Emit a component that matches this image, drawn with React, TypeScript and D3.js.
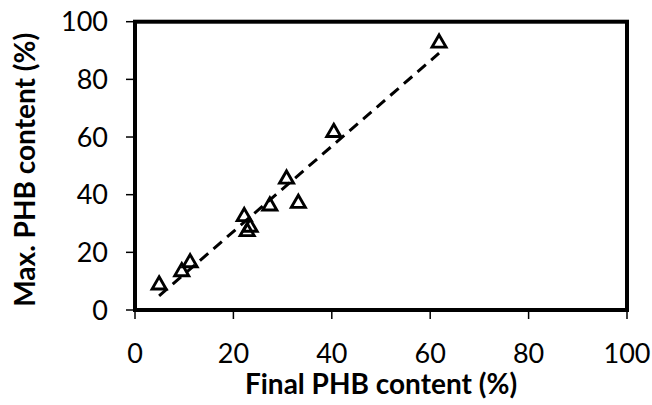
import React from "react";
import * as d3 from "d3";

// final vs max PHB content (%)
const finalPHB = [4.9, 9.5, 11.2, 22.2, 22.8, 23.4, 27.4, 30.8, 33.2, 40.4, 61.8];
const maxPHB = [8.7, 13.3, 16.4, 32.4, 27.2, 28.7, 36.1, 45.4, 37.0, 61.6, 92.6];
const xTicks = [0, 20, 40, 60, 80, 100];
const yTicks = [0, 20, 40, 60, 80, 100];

const W = 652;
const H = 405;
const M = { left: 135, right: 25, top: 21.7, bottom: 95 };
const FONT = "Lato, 'Open Sans', sans-serif";

export default function App() {
  const x = d3.scaleLinear().domain([0, 100]).range([M.left, W - M.right]);
  const y = d3.scaleLinear().domain([0, 100]).range([H - M.bottom, M.top]);

  const pts = finalPHB.map((v, i) => ({ x: v, y: maxPHB[i] }));

  // linear trend line (least squares)
  const mx = d3.mean(finalPHB) as number;
  const my = d3.mean(maxPHB) as number;
  const sxy = d3.sum(pts, (p) => (p.x - mx) * (p.y - my));
  const sxx = d3.sum(pts, (p) => (p.x - mx) ** 2);
  const slope = sxy / sxx;
  const icpt = my - slope * mx;
  const [x0, x1] = d3.extent(finalPHB) as [number, number];
  const trend = d3.line<number>()
    .x((d) => x(d))
    .y((d) => y(slope * d + icpt))([x0, x1]);

  const tri = d3.symbol().type(d3.symbolTriangle).size(85)();

  return (
    <svg width={W} height={H} style={{ position: "absolute", left: 0, top: 0, background: "#fff" }}>
      {/* ticks */}
      {xTicks.map((t) => (
        <g key={"x" + t}>
          <line x1={x(t)} x2={x(t)} y1={y(0)} y2={y(0) + 9} stroke="#000" strokeWidth={1.5} />
          <text x={x(t)} y={y(0) + 53} textAnchor="middle" fontFamily={FONT} fontSize={27} fill="#000">{t}</text>
        </g>
      ))}
      {yTicks.map((t) => (
        <g key={"y" + t}>
          <line x1={x(0) - 9} x2={x(0)} y1={y(t)} y2={y(t)} stroke="#000" strokeWidth={1.5} />
          <text x={x(0) - 27} y={y(t)} dy="0.36em" textAnchor="end" fontFamily={FONT} fontSize={27} fill="#000">{t}</text>
        </g>
      ))}

      <path d={trend ?? ""} fill="none" stroke="#000" strokeWidth={3} strokeDasharray="11,7" />

      {pts.map((p, i) => (
        <path key={i} d={tri ?? ""} transform={`translate(${x(p.x)},${y(p.y)})`} fill="none" stroke="#000" strokeWidth={2.9} />
      ))}

      {/* plot frame */}
      <rect x={x(0)} y={y(100)} width={x(100) - x(0)} height={y(0) - y(100)} fill="none" stroke="#000" strokeWidth={4} />

      <text x={(x(0) + x(100)) / 2} y={394} textAnchor="middle" fontFamily={FONT} fontWeight="bold" fontSize={28} fill="#000">
        Final PHB content (%)
      </text>
      <text transform={`translate(35,${(y(0) + y(100)) / 2 + 4}) rotate(-90)`} textAnchor="middle" fontFamily={FONT} fontWeight="bold" fontSize={28} fill="#000">
        Max. PHB content (%)
      </text>
    </svg>
  );
}
